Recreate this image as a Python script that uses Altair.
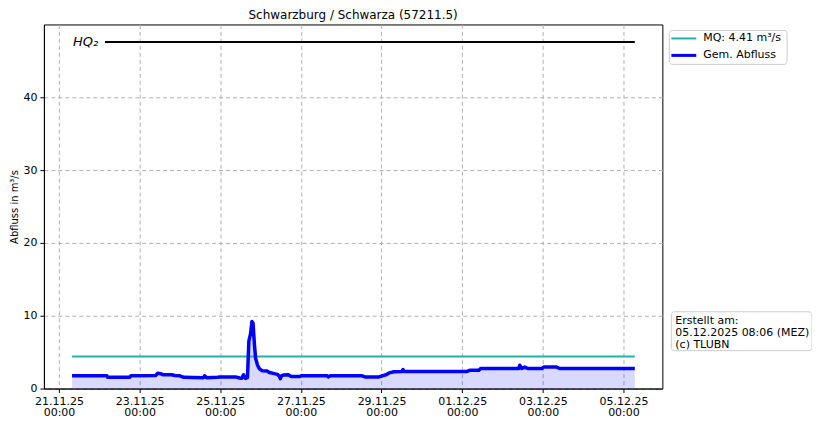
import altair as alt
import pandas as pd

# --- data -------------------------------------------------------------------
flow_times = [
    "2025-11-21T07:45", "2025-11-22T04:30", "2025-11-22T05:00", "2025-11-22T18:00",
    "2025-11-22T18:45", "2025-11-23T09:30", "2025-11-23T10:45", "2025-11-23T12:30",
    "2025-11-23T13:45", "2025-11-23T19:00", "2025-11-23T21:00", "2025-11-24T00:00",
    "2025-11-24T02:15", "2025-11-24T14:00", "2025-11-24T14:40", "2025-11-24T15:50",
    "2025-11-24T22:20", "2025-11-24T23:35", "2025-11-25T09:00", "2025-11-25T11:30",
    "2025-11-25T12:40", "2025-11-25T13:50", "2025-11-25T15:00", "2025-11-25T16:10",
    "2025-11-25T17:00", "2025-11-25T18:00", "2025-11-25T18:50", "2025-11-25T19:30",
    "2025-11-25T20:20", "2025-11-25T21:00", "2025-11-25T22:10", "2025-11-25T23:20",
    "2025-11-26T01:00", "2025-11-26T04:00", "2025-11-26T05:15", "2025-11-26T08:10",
    "2025-11-26T10:00", "2025-11-26T11:10", "2025-11-26T11:45", "2025-11-26T12:20",
    "2025-11-26T13:30", "2025-11-26T16:30", "2025-11-26T18:15", "2025-11-26T23:00",
    "2025-11-27T00:10", "2025-11-27T15:40", "2025-11-27T16:15", "2025-11-27T17:30",
    "2025-11-28T12:25", "2025-11-28T14:10", "2025-11-28T22:30", "2025-11-29T00:20",
    "2025-11-29T02:40", "2025-11-29T04:30", "2025-11-29T07:20", "2025-11-29T12:10",
    "2025-11-29T12:45", "2025-11-29T13:20", "2025-12-01T02:50", "2025-12-01T04:30",
    "2025-12-01T09:50", "2025-12-01T11:00", "2025-12-02T09:40", "2025-12-02T10:15",
    "2025-12-02T11:30", "2025-12-02T13:15", "2025-12-02T15:00", "2025-12-02T23:20",
    "2025-12-03T00:30", "2025-12-03T08:10", "2025-12-03T10:00", "2025-12-05T06:45",
]
flow_values = [
    1.75, 1.75, 1.55, 1.55,
    1.75, 1.80, 2.10, 2.05,
    1.90, 1.90, 1.80, 1.75,
    1.55, 1.50, 1.75, 1.50,
    1.55, 1.60, 1.60, 1.45,
    1.40, 1.90, 1.40, 1.50,
    6.50, 7.50, 9.20, 9.00,
    6.00, 4.20, 3.20, 2.70,
    2.45, 2.40, 2.20, 2.05,
    1.95, 1.70, 1.35, 1.75,
    1.85, 1.90, 1.65, 1.65,
    1.75, 1.75, 1.60, 1.75,
    1.75, 1.60, 1.60, 1.75,
    1.90, 2.15, 2.30, 2.35,
    2.60, 2.35, 2.35, 2.50,
    2.50, 2.75, 2.75, 3.20,
    2.75, 2.95, 2.75, 2.75,
    2.95, 2.95, 2.75, 2.75,
]

mq_value = 4.41
mq_label = "MQ: 4.41 m³/s"
flow_label = "Gem. Abfluss"
mq_color = "#20b2aa"
flow_color = "#0000ff"
hq_value = 47.6
hq_times = ["2025-11-22T03:20", "2025-12-05T06:45"]
hq_label = "HQ₂"

x_tick_dates = ["2025-11-21", "2025-11-23", "2025-11-25", "2025-11-27",
                "2025-11-29", "2025-12-01", "2025-12-03", "2025-12-05"]
x_domain = ["2025-11-20T15:00", "2025-12-05T23:10"]
y_ticks = [0, 10, 20, 30, 40]

title = "Schwarzburg / Schwarza (57211.5)"
y_title = "Abfluss in m³/s"
note_lines = ["Erstellt am:", "05.12.2025 08:06 (MEZ)", "(c) TLUBN"]


def ms(s):
    return int(pd.Timestamp(s, tz="UTC").value // 10**6)


flow_df = pd.DataFrame({"t": [ms(t) for t in flow_times], "q": flow_values})
mq_df = pd.DataFrame({"t": [ms(flow_times[0]), ms(flow_times[-1])], "q": [mq_value] * 2})
hq_df = pd.DataFrame({"t": [ms(t) for t in hq_times], "q": [hq_value] * 2})
hq_text_df = pd.DataFrame({"t": [ms(flow_times[0])], "q": [hq_value], "label": [hq_label]})
note_df = pd.DataFrame({"text": [note_lines]})
one_df = pd.DataFrame({"k": [0]})

xscale = alt.Scale(type="utc", domain=[ms(d) for d in x_domain], nice=False)
yscale = alt.Scale(domain=[0, 50], nice=False, zero=True)

x_axis = alt.Axis(
    values=[ms(d) for d in x_tick_dates],
    labelExpr="[utcFormat(datum.value, '%d.%m.%y'), utcFormat(datum.value, '%H:%M')]",
    title=None,
    grid=True,
    labelLineHeight=11,
)
y_axis = alt.Axis(values=y_ticks, title=y_title, grid=True)

X = alt.X("t:Q", scale=xscale, axis=x_axis)
Y = alt.Y("q:Q", scale=yscale, axis=y_axis)
Xp = alt.X("t:Q", scale=xscale)
Yp = alt.Y("q:Q", scale=yscale)

area = alt.Chart(flow_df).mark_area(color=flow_color, opacity=0.15).encode(x=X, y=Y)

mq_line = alt.Chart(mq_df).mark_line(strokeWidth=2, color=mq_color).encode(x=Xp, y=Yp)

flow_line = alt.Chart(flow_df).mark_line(
    strokeWidth=3.5, strokeJoin="round", color=flow_color
).encode(x=Xp, y=Yp)

hq_line = alt.Chart(hq_df).mark_line(color="black", strokeWidth=2).encode(x=Xp, y=Yp)
hq_text = alt.Chart(hq_text_df).mark_text(
    align="left", baseline="middle", fontSize=13, fontStyle="italic",
    font="DejaVu Sans", color="black", dx=1,
).encode(x=Xp, y=Yp, text="label:N")

# legend (drawn in pixel space to the right of the plot)
leg_box = alt.Chart(one_df).mark_rect(
    fill="white", stroke="#cccccc", strokeWidth=1, cornerRadius=3
).encode(x=alt.value(627), x2=alt.value(745), y=alt.value(6), y2=alt.value(40))
leg_sym1 = alt.Chart(one_df).mark_rule(color=mq_color, strokeWidth=2).encode(
    x=alt.value(629), x2=alt.value(654), y=alt.value(14))
leg_sym2 = alt.Chart(one_df).mark_rule(color=flow_color, strokeWidth=3).encode(
    x=alt.value(629), x2=alt.value(654), y=alt.value(31))
leg_txt1 = alt.Chart(one_df).mark_text(
    align="left", baseline="middle", fontSize=11, font="DejaVu Sans", color="black", text=mq_label
).encode(x=alt.value(661), y=alt.value(14))
leg_txt2 = alt.Chart(one_df).mark_text(
    align="left", baseline="middle", fontSize=11, font="DejaVu Sans", color="black", text=flow_label
).encode(x=alt.value(661), y=alt.value(31))

note_box = alt.Chart(note_df).mark_rect(
    fill="white", stroke="#cccccc", strokeWidth=1, cornerRadius=3
).encode(x=alt.value(629), x2=alt.value(770), y=alt.value(288), y2=alt.value(327))
note_text = alt.Chart(note_df).mark_text(
    align="left", baseline="top", fontSize=11, font="DejaVu Sans",
    color="black", lineHeight=12,
).encode(x=alt.value(633), y=alt.value(291), text="text")

chart = alt.layer(
    area, mq_line, flow_line, hq_line, hq_text,
    leg_box, leg_sym1, leg_sym2, leg_txt1, leg_txt2, note_box, note_text,
).properties(
    width=620, height=365,
    title=alt.TitleParams(title, fontSize=12, fontWeight="normal", font="DejaVu Sans",
                          anchor="middle", color="black", offset=2),
    autosize=alt.AutoSizeParams(type="none"),
    padding={"left": 36, "top": 16, "right": 150, "bottom": 29},
).configure_view(
    stroke="black", strokeWidth=1
).configure_axis(
    labelFont="DejaVu Sans", labelFontSize=11, labelColor="black",
    titleFont="DejaVu Sans", titleFontSize=10, titleColor="black", titleFontWeight="normal",
    domainColor="black", tickColor="black", tickSize=4,
    gridColor="#b0b0b0", gridDash=[4, 3], gridWidth=1,
).configure_axisY(
    titlePadding=3, labelPadding=3,
).configure_axisX(
    labelPadding=3,
)

chart.save("out.html", embed_options={"renderer": "svg", "actions": False})
